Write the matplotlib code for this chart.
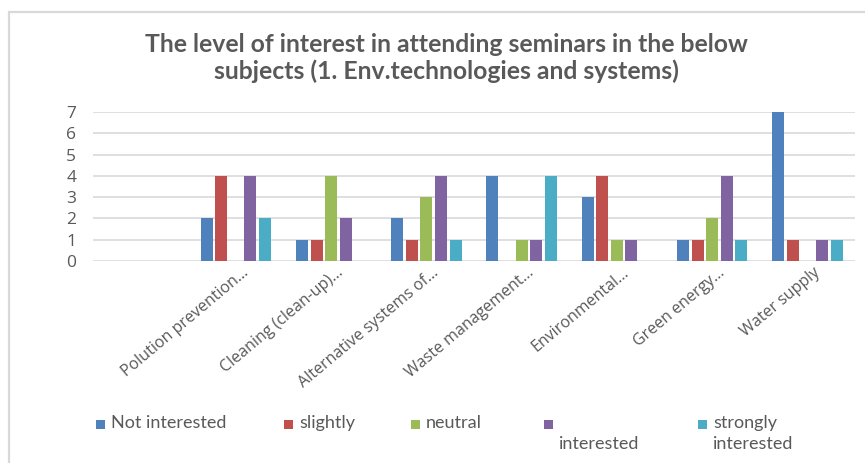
import numpy as np
import matplotlib
matplotlib.use("Agg")
import matplotlib.pyplot as plt
from matplotlib.patches import Rectangle
from matplotlib.transforms import ScaledTranslation

title = "The level of interest in attending seminars in the below\nsubjects (1. Env.technologies and systems)"
categories = ["", "Polution prevention...", "Cleaning (clean-up)...", "Alternative systems of...",
              "Waste management...", "Environmental...", "Green energy...", "Water supply"]
series_names = ["Not interested", "slightly", "neutral", "\ninterested", "strongly\ninterested"]
not_interested = [np.nan, 2, 1, 2, 4, 3, 1, 7]
slightly       = [np.nan, 4, 1, 1, 0, 4, 1, 1]
neutral        = [np.nan, 0, 4, 3, 1, 1, 2, 0]
interested     = [np.nan, 4, 2, 4, 1, 1, 4, 1]
strongly       = [np.nan, 2, 0, 1, 4, 0, 1, 1]
series_values = [not_interested, slightly, neutral, interested, strongly]
colors = ["#4F81BD", "#C0504D", "#9BBB59", "#8064A2", "#4BACC6"]
yticks = [0, 1, 2, 3, 4, 5, 6, 7]

W, H, DPI = 865, 463, 100
fig = plt.figure(figsize=(W / DPI, H / DPI), dpi=DPI)
fig.patch.set_facecolor("white")

# chart border
fig.patches.append(Rectangle((9 / W, -0.1), 1.2, 1.1 - 12 / H, transform=fig.transFigure,
                             fill=False, edgecolor="#d9d9d9", linewidth=1.6))

ax = fig.add_axes([93 / W, 1 - 261 / H, (855 - 93) / W, (261 - 112) / H])
x = np.arange(len(categories))
pitch = 0.153
width = 0.126
for j, (vals, c) in enumerate(zip(series_values, colors)):
    v = np.array(vals, dtype=float)
    mask = np.nan_to_num(v) > 0
    ax.bar(x[mask] + (j - 2) * pitch, v[mask], width=width, color=c, linewidth=0, zorder=3)

ax.set_xlim(-0.5, len(categories) - 0.5)
ax.set_ylim(0, 7)
ax.set_yticks(yticks)
ax.set_yticklabels([str(t) for t in yticks], fontfamily="Open Sans", fontsize=12.5, color="#595959")
ax.tick_params(axis="y", length=0, pad=12)
ax.tick_params(axis="x", length=0, pad=0)
ax.grid(axis="y", color="#d9d9d9", linewidth=1.2, zorder=0)
for s in ax.spines.values():
    s.set_visible(False)

ax.set_xticks(x)
labels = ax.set_xticklabels(categories, rotation=40, ha="right", va="baseline",
                            rotation_mode="anchor", fontfamily="Open Sans", fontsize=11.5,
                            color="#595959")
off = ScaledTranslation(13 / DPI, -13 / DPI, fig.dpi_scale_trans)
for lab in labels:
    lab.set_transform(lab.get_transform() + off)

fig.text(446 / W, 1 - 58 / H, title, ha="center", va="center", fontfamily="Lato",
         fontweight="bold", fontsize=17.8, color="#595959", linespacing=1.2)

# legend
leg_x = [96, 284, 411, 544, 698]
row1 = 424
for name, c, lx in zip(series_names, colors, leg_x):
    fig.patches.append(Rectangle((lx / W, 1 - (row1 + 5) / H), 9 / W, 9 / H,
                                 transform=fig.transFigure, facecolor=c, edgecolor="none"))
    fig.text((lx + 15) / W, 1 - (row1 - 9) / H, name, ha="left", va="top", fontfamily="Lato",
             fontsize=13, color="#595959", linespacing=1.4)

fig.savefig("out.png", dpi=DPI, facecolor="white")
